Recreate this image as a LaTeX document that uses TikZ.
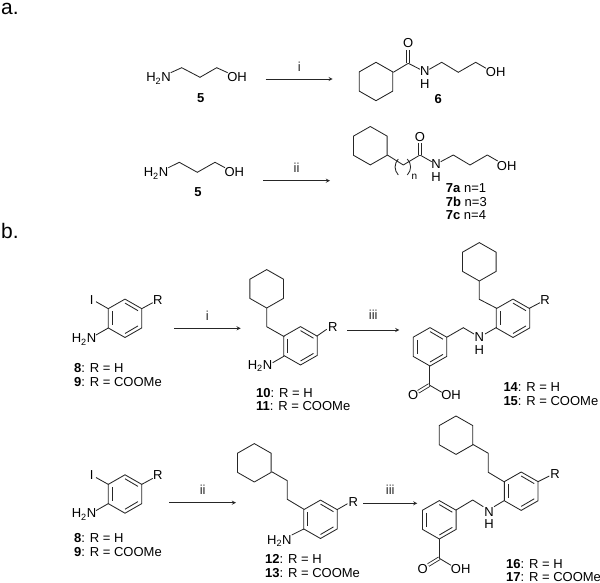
\documentclass[tikz,border=0pt]{standalone}
\usepackage{fontspec}
\setmainfont{Liberation Sans}
\usetikzlibrary{arrows}

\tikzset{
  bond/.style={line width=0.85pt,black!85},
  rxn/.style={-stealth,line width=0.85pt,black!85},
  atom/.style={inner sep=0pt,font=\fontsize{13}{13}\selectfont,text height=9.3pt,text depth=0pt},
  cpd/.style={atom,anchor=west},
  sect/.style={inner sep=0pt,anchor=base west,font=\fontsize{21}{21}\selectfont}
}

% cyclohexane, centre given
\newcommand{\cyhex}[2]{
\draw[bond] (#1,#2-19.2) -- (#1+16.8,#2-9.6) -- (#1+16.8,#2+9.6) -- (#1,#2+19.2)
  -- (#1-16.8,#2+9.6) -- (#1-16.8,#2-9.6) -- cycle;
}
% benzene, centre given
\newcommand{\benz}[2]{
\cyhex{#1}{#2}
\draw[bond] (#1-13,#2-7) -- (#1-13,#2+7);
\draw[bond] (#1,#2-15.2) -- (#1+13,#2-7.6);
\draw[bond] (#1,#2+15.2) -- (#1+13,#2+7.6);
}

\begin{document}
\begin{tikzpicture}[x=1pt,y=-1pt]
\useasboundingbox (0,0) rectangle (600,583);

\node[sect] (secta) at (1,15) {a.};
\node[sect] (sectb) at (1,238.5) {b.};

% scheme a, first line
\node[atom] (hnA) at (158.5,77.3) {H\textsubscript{2}N};
\node[atom] (ohA) at (237,77.3) {OH};
\node[atom] (cpdfiveA) at (200.7,97.7) {\textbf{5}};
\draw[bond] (170.7,72.7) -- (181.7,67.7) -- (200,77.3) -- (216.7,67.7) -- (227.7,72.7);
\coordinate (arrAs) at (265.7,79);
\coordinate (arrAe) at (332.7,79);
\draw[rxn] (arrAs) -- node[atom,above=7.5pt] (condA) {i} (arrAe);

\cyhex{376}{81.5}
\draw[bond] (393.3,72.3) -- (408.3,63.3) -- (420,69.3);
\draw[bond,double,double distance=2pt] (408.3,63.3) -- (408.3,50);
\node[atom] (oA) at (408.3,43.3) {O};
\node[atom] (nA) at (424.7,71) {N};
\node[atom] (hA) at (424.7,83.5) {H};
\draw[bond] (429.3,69.3) -- (441.7,62.3) -- (458.3,72.3) -- (475.7,62.3) -- (486,68.3);
\node[atom] (ohAA) at (495.7,72.3) {OH};
\node[atom] (cpdsix) at (438.3,99.3) {\textbf{6}};

% scheme a, second line
\node[atom] (hnB) at (156,172.3) {H\textsubscript{2}N};
\node[atom] (ohB) at (234.3,172.3) {OH};
\node[atom] (cpdfiveB) at (198,192.3) {\textbf{5}};
\draw[bond] (168.3,167.7) -- (179.3,162.3) -- (197.3,172.3) -- (215,162.3) -- (225,167.7);
\coordinate (arrBs) at (263,180.7);
\coordinate (arrBe) at (330,180.7);
\draw[rxn] (arrBs) -- node[atom,above=7.5pt] (condB) {ii} (arrBe);

\cyhex{370.3}{145.7}
\draw[bond] (387.3,155) -- (403.3,165) -- (420,155) -- (431.7,161.7);
\draw[bond] (398.3,159) .. controls (394,164) and (394,170) .. (398.3,175);
\draw[bond] (407.3,159) .. controls (411.7,164) and (411.7,170) .. (407.3,175);
\node[inner sep=0pt,font=\fontsize{10}{10}\selectfont] (nsub) at (414.5,176.5) {n};
\draw[bond,double,double distance=2pt] (420,155) -- (420,143);
\node[atom] (oB) at (420,136.7) {O};
\node[atom] (nB) at (436,164) {N};
\node[atom] (hB) at (436,177.3) {H};
\draw[bond] (440.7,161.7) -- (453.3,155) -- (470,165) -- (487.3,155) -- (497.7,161);
\node[atom] (ohBB) at (506.7,165.7) {OH};
\node[cpd] (cpdsevena) at (445.7,188.3) {\textbf{7a} n=1};
\node[cpd] (cpdsevenb) at (445.7,201.5) {\textbf{7b} n=3};
\node[cpd] (cpdsevenc) at (445.7,215) {\textbf{7c} n=4};

% scheme b, first line
\benz{125}{318.3}
\draw[bond] (108.3,308.7) -- (96,301.7);
\draw[bond] (141.7,308.7) -- (152.7,302.7);
\draw[bond] (108.3,328) -- (96,335);
\node[atom] (iC) at (91.7,300) {I};
\node[atom] (rC) at (157.7,300) {R};
\node[atom] (hnC) at (84,338.3) {H\textsubscript{2}N};
\node[cpd] (lbleightC) at (74,368.3) {\textbf{8}: R = H};
\node[cpd] (lblnineC) at (74,382.3) {\textbf{9}: R = COOMe};
\coordinate (arrCs) at (174,328.3);
\coordinate (arrCe) at (240.7,328.3);
\draw[rxn] (arrCs) -- node[atom,above=7.5pt] (condC) {i} (arrCe);

\cyhex{266.7}{288.8}
\benz{300.5}{345.8}
\draw[bond] (266.7,308) -- (266.7,326.7) -- (284.3,336.7);
\draw[bond] (284.3,356) -- (272.7,362.7);
\draw[bond] (316.7,336.2) -- (326.7,329.3);
\node[atom] (rD) at (332.7,326.7) {R};
\node[atom] (hnD) at (260,365) {H\textsubscript{2}N};
\node[cpd] (lblten) at (256,392.7) {\textbf{10}: R = H};
\node[cpd] (lbleleven) at (256,406) {\textbf{11}: R = COOMe};
\coordinate (arrDs) at (347.3,330);
\coordinate (arrDe) at (399.3,330);
\draw[rxn] (arrDs) -- node[atom,above=10pt] (condD) {iii} (arrDe);

\cyhex{479.3}{261.8}
\draw[bond] (479.3,281) -- (479.3,299.3) -- (496.7,308.3);
\benz{513}{318.3}
\draw[bond] (529.3,308.3) -- (540,302.7);
\node[atom] (rE) at (545,300) {R};
\draw[bond] (496.7,327.3) -- (485,334);
\node[atom] (nE) at (479.3,337.3) {N};
\node[atom] (hE) at (479.3,349.5) {H};
\draw[bond] (474,334) -- (463.3,327.7) -- (446.7,337.3);
\benz{430}{346.8}
\draw[bond] (429.3,366) -- (429.3,385);
\draw[bond,double,double distance=2pt] (429.3,385) -- (418.3,391.7);
\draw[bond] (429.3,385) -- (441.7,392.3);
\node[atom] (oE) at (413.3,395) {O};
\node[atom] (ohE) at (451,395) {OH};
\node[cpd] (lblfourteen) at (503.3,386.7) {\textbf{14}: R = H};
\node[cpd] (lblfifteen) at (503.3,400.7) {\textbf{15}: R = COOMe};

% scheme b, second line
\benz{125}{494}
\draw[bond] (108.3,484.4) -- (96,477.5);
\draw[bond] (141.7,484.4) -- (152.7,478.4);
\draw[bond] (108.3,503.6) -- (96,510.6);
\node[atom] (iF) at (91.7,475) {I};
\node[atom] (rF) at (157.7,475) {R};
\node[atom] (hnF) at (84,513.3) {H\textsubscript{2}N};
\node[cpd] (lbleightF) at (74,537.7) {\textbf{8}: R = H};
\node[cpd] (lblnineF) at (74,551.7) {\textbf{9}: R = COOMe};
\coordinate (arrFs) at (169.3,502.7);
\coordinate (arrFe) at (236,502.7);
\draw[rxn] (arrFs) -- node[atom,above=7.5pt] (condF) {ii} (arrFe);

\cyhex{254.3}{462.8}
\draw[bond] (271.7,471.7) -- (287.3,480.7) -- (287.3,499.3) -- (304,509.3);
\benz{320.5}{519.3}
\draw[bond] (304,528.9) -- (291.7,535);
\draw[bond] (337,509.7) -- (347.5,503.7);
\node[atom] (rG) at (353.3,501.7) {R};
\node[atom] (hnG) at (279.3,540) {H\textsubscript{2}N};
\node[cpd] (lbltwelve) at (265,559.3) {\textbf{12}: R = H};
\node[cpd] (lblthirteen) at (265,572.7) {\textbf{13}: R = COOMe};
\coordinate (arrGs) at (363.3,503.3);
\coordinate (arrGe) at (417.3,503.3);
\draw[rxn] (arrGs) -- node[atom,above=8.5pt] (condG) {iii} (arrGe);

\cyhex{456}{435.2}
\draw[bond] (472.7,444.3) -- (488.3,453.3) -- (488.3,472.3) -- (504,481.7);
\benz{521.2}{491.2}
\draw[bond] (538,481.7) -- (549.3,476);
\node[atom] (rH) at (555,474) {R};
\draw[bond] (504,500.7) -- (494,506.7);
\node[atom] (nH) at (489,512) {N};
\node[atom] (hH) at (489,524) {H};
\draw[bond] (483.3,506.7) -- (472.7,500) -- (456,510);
\benz{439.3}{519.8}
\draw[bond] (439.3,539) -- (439.3,558.3);
\draw[bond,double,double distance=2pt] (439.3,558.3) -- (428.3,565);
\draw[bond] (439.3,558.3) -- (451,565.3);
\node[atom] (oH) at (422.7,569.3) {O};
\node[atom] (ohH) at (460.7,569.3) {OH};
\node[cpd] (lblsixteen) at (506,564.3) {\textbf{16}: R = H};
\node[cpd] (lblseventeen) at (506,577) {\textbf{17}: R = COOMe};
\end{tikzpicture}
\end{document}
